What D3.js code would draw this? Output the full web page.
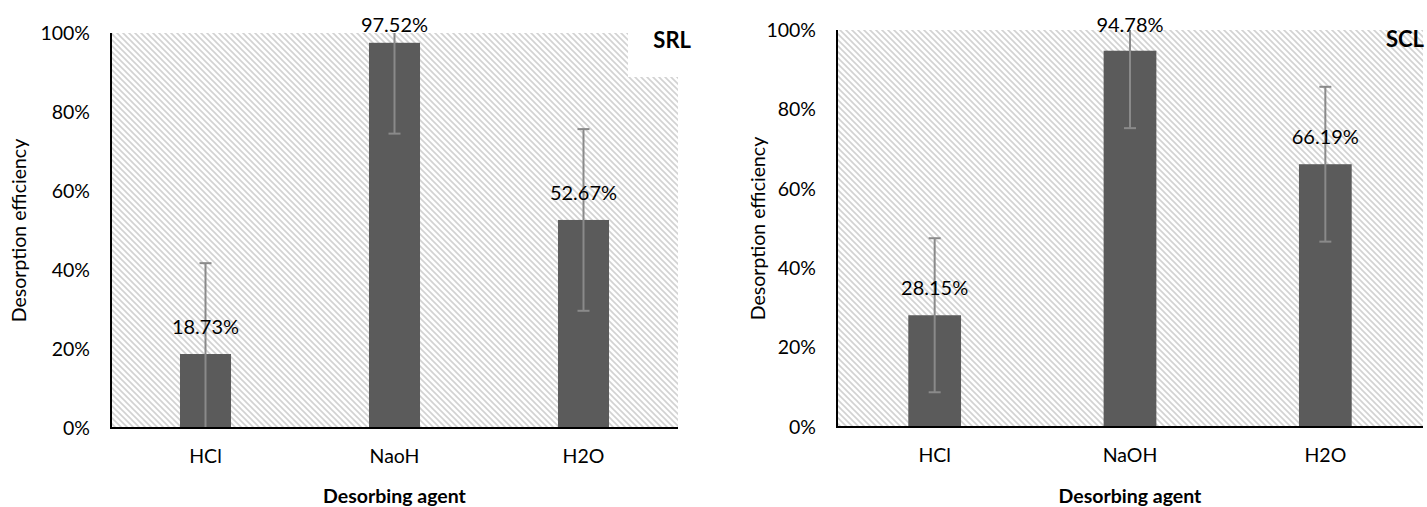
<!DOCTYPE html>
<html>
<head>
<meta charset="utf-8">
<script src="https://cdn.jsdelivr.net/npm/d3@7"></script>
<style>
  html, body { margin: 0; padding: 0; background: #fff; }
  svg { display: block; font-family: Lato, "Open Sans", sans-serif; }
</style>
</head>
<body>
<svg id="chart" width="1427" height="507"></svg>
<script>
// Desorption efficiency per desorbing agent, two sorbents
const categoriesSRL = ["HCl", "NaoH", "H2O"];
const valuesSRL = [18.73, 97.52, 52.67];
const errorsSRL = [23.0, 23.0, 23.0];

const categoriesSCL = ["HCl", "NaOH", "H2O"];
const valuesSCL = [28.15, 94.78, 66.19];
const errorsSCL = [19.4, 19.5, 19.5];

const yTicks = [0, 20, 40, 60, 80, 100];
const yAxisTitle = "Desorption efficiency";
const xAxisTitle = "Desorbing agent";

const svg = d3.select("#chart");

// light downward-diagonal hatch used as plot background
const defs = svg.append("defs");
const pat = defs.append("pattern")
  .attr("id", "hatch")
  .attr("patternUnits", "userSpaceOnUse")
  .attr("width", 6).attr("height", 6);
pat.append("rect").attr("width", 6).attr("height", 6).attr("fill", "#fff");
pat.append("path")
  .attr("d", "M-1,-1 L7,7 M-1,5 L1,7 M5,-1 L7,1")
  .attr("stroke", "#d2d2d2")
  .attr("stroke-width", 1.6);

function drawPanel(opt) {
  const { id, left, right, top, bottom, categories, values, errors, tag } = opt;
  const g = svg.append("g");

  const x = d3.scaleBand()
    .domain(categories)
    .range([left, right])
    .paddingInner(0.73)
    .paddingOuter(0.365);
  const y = d3.scaleLinear().domain([0, 100]).range([bottom, top]);

  defs.append("clipPath").attr("id", "clip-" + id)
    .append("rect")
    .attr("x", left).attr("y", top)
    .attr("width", right - left).attr("height", bottom - top);

  // hatched plot area
  g.append("rect")
    .attr("x", left).attr("y", top)
    .attr("width", right - left).attr("height", bottom - top)
    .attr("fill", "url(#hatch)");

  if (tag.box) {
    g.append("rect")
      .attr("x", tag.box[0]).attr("y", tag.box[1])
      .attr("width", tag.box[2]).attr("height", tag.box[3])
      .attr("fill", "#fff");
  }

  // y axis tick labels
  const yAxis = d3.axisLeft(y)
    .tickValues(yTicks)
    .tickSize(0)
    .tickPadding(21)
    .tickFormat(d => d + "%");
  const ya = g.append("g").attr("transform", `translate(${left},0)`).call(yAxis);
  ya.select(".domain").remove();
  ya.selectAll("text")
    .attr("font-family", "Lato, sans-serif")
    .attr("font-size", 19.5)
    .attr("fill", "#000");

  // x axis labels
  const xAxis = d3.axisBottom(x).tickSize(0).tickPadding(21);
  const xa = g.append("g").attr("transform", `translate(0,${bottom})`).call(xAxis);
  xa.select(".domain").remove();
  xa.selectAll("text")
    .attr("font-family", "Lato, sans-serif")
    .attr("font-size", 19.5)
    .attr("fill", "#000");

  // bars
  g.selectAll("rect.bar")
    .data(categories)
    .join("rect")
    .attr("class", "bar")
    .attr("x", d => x(d))
    .attr("width", x.bandwidth())
    .attr("y", (d, i) => y(values[i]))
    .attr("height", (d, i) => bottom - y(values[i]))
    .attr("fill", "#5b5b5b");

  // error bars
  const eg = g.append("g").attr("clip-path", `url(#clip-${id})`)
    .attr("stroke", "#8a8a8a").attr("stroke-width", 2).attr("fill", "none");
  categories.forEach((c, i) => {
    const cx = x(c) + x.bandwidth() / 2;
    const hi = y(values[i] + errors[i]);
    const lo = y(values[i] - errors[i]);
    eg.append("line").attr("x1", cx).attr("x2", cx).attr("y1", hi).attr("y2", lo);
    eg.append("line").attr("x1", cx - 6).attr("x2", cx + 6).attr("y1", hi).attr("y2", hi);
    eg.append("line").attr("x1", cx - 6).attr("x2", cx + 6).attr("y1", lo).attr("y2", lo);
  });

  // axis lines
  g.append("line")
    .attr("x1", left).attr("x2", left).attr("y1", top).attr("y2", bottom + 1)
    .attr("stroke", "#000").attr("stroke-width", 2);
  g.append("line")
    .attr("x1", left - 1).attr("x2", right).attr("y1", bottom).attr("y2", bottom)
    .attr("stroke", "#000").attr("stroke-width", 2);

  // value labels
  g.selectAll("text.val")
    .data(categories)
    .join("text")
    .attr("class", "val")
    .attr("x", d => x(d) + x.bandwidth() / 2)
    .attr("y", (d, i) => Math.max(y(values[i]) - 20, 32))
    .attr("text-anchor", "middle")
    .attr("font-size", 20)
    .attr("fill", "#000")
    .text((d, i) => values[i].toFixed(2) + "%");

  // axis titles
  g.append("text")
    .attr("transform", `translate(${opt.yTitleX},${(top + bottom) / 2}) rotate(-90)`)
    .attr("text-anchor", "middle")
    .attr("dominant-baseline", "central")
    .attr("font-size", 19.5)
    .text(yAxisTitle);
  g.append("text")
    .attr("x", (left + right) / 2)
    .attr("y", opt.xTitleY)
    .attr("text-anchor", "middle")
    .attr("dominant-baseline", "central")
    .attr("font-size", 19.5)
    .attr("font-weight", "bold")
    .text(xAxisTitle);

  // panel tag
  g.append("text")
    .attr("x", tag.x).attr("y", tag.y)
    .attr("text-anchor", "end")
    .attr("font-size", 22)
    .attr("font-weight", "bold")
    .text(tag.text);
}

drawPanel({
  id: "srl", left: 111, right: 678, top: 33, bottom: 428,
  categories: categoriesSRL, values: valuesSRL, errors: errorsSRL,
  yTitleX: 18, xTitleY: 495,
  tag: { text: "SRL", x: 691, y: 48, box: [628, 20, 80, 57] }
});

drawPanel({
  id: "scl", left: 837, right: 1423, top: 30, bottom: 427,
  categories: categoriesSCL, values: valuesSCL, errors: errorsSCL,
  yTitleX: 757, xTitleY: 495,
  tag: { text: "SCL", x: 1424, y: 47 }
});
</script>
</body>
</html>
